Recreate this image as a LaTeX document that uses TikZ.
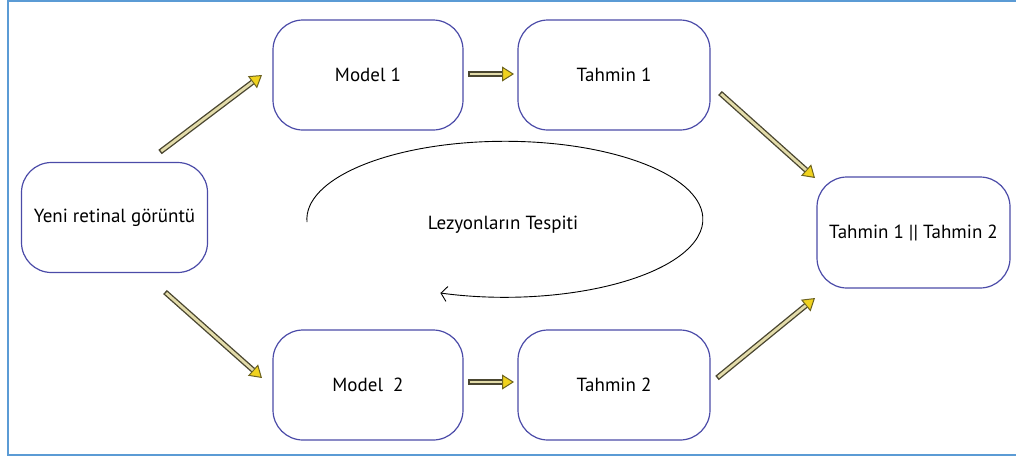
\documentclass[tikz,border=0pt]{standalone}
\usepackage{fontspec}
\setmainfont{PT Sans}
\usetikzlibrary{arrows.meta}
\definecolor{framblue}{HTML}{5B9BD5}
\definecolor{boxline}{HTML}{4B4BA8}
\definecolor{shaftdark}{HTML}{4A4630}
\definecolor{shaftlight}{HTML}{E3DCAA}
\definecolor{headfill}{HTML}{F0D21E}
\definecolor{headline}{HTML}{6E6420}
\tikzset{
  labelfont/.style={font=\fontsize{19}{22}\selectfont, text=black},
  stagebox/.style={draw=boxline, line width=1.2pt, rounded corners=30pt,
    minimum width=190pt, minimum height=110pt, inner sep=0pt, labelfont},
  fatarrow/.style={draw=shaftdark, line width=5.5pt, line cap=butt,
    -{Triangle[length=12pt,width=15pt,fill=headfill,color=headline,line width=1pt]},
    postaction={draw=shaftlight, line width=2.8pt, -, shorten >=12pt, shorten <=1.5pt}},
  looparrow/.style={draw=black, line width=0.9pt, -{Straight Barb[length=6pt,width=15pt]}},
}
\begin{document}
\begin{tikzpicture}[x=1pt, y=-1pt]
\useasboundingbox (0,0) rectangle (1016,459);
% outer frame, open on the right
\draw[framblue, line width=2pt] (1016,1) -- (8,1) -- (8,455) -- (1016,455);

% boxes
\node[stagebox, minimum width=186pt, minimum height=110pt] (yeni) at (114.5,217.5) {Yeni retinal görüntü};
\node[stagebox] (m1) at (368,75) {Model 1};
\node[stagebox, minimum width=192pt] (t1) at (614,75) {Tahmin 1};
\node[stagebox] (m2) at (368,385) {Model~~2};
\node[stagebox, minimum width=192pt] (t2) at (614,385) {Tahmin 2};
\node[stagebox, minimum width=193pt, minimum height=111pt] (out) at (913.5,232.5) {Tahmin 1 || Tahmin 2};

% arrow end points
\coordinate (a1s) at (160,152);  \coordinate (a1e) at (262,75);
\coordinate (a2s) at (165,292);  \coordinate (a2e) at (262,378);
\coordinate (a3s) at (468,74);   \coordinate (a3e) at (514,74);
\coordinate (a4s) at (468,382);  \coordinate (a4e) at (514,382);
\coordinate (a5s) at (720,93);   \coordinate (a5e) at (815,178);
\coordinate (a6s) at (717,378);  \coordinate (a6e) at (815,298);

\draw[fatarrow] (a1s) -- (a1e);
\draw[fatarrow] (a2s) -- (a2e);
\draw[fatarrow] (a3s) -- (a3e);
\draw[fatarrow] (a4s) -- (a4e);
\draw[fatarrow] (a5s) -- (a5e);
\draw[fatarrow] (a6s) -- (a6e);

% loop around the centre label
\node[labelfont] (lez) at (503,225) {Lezyonların Tespiti};
\coordinate (loopstart) at (307,222);
\draw[looparrow] (loopstart) arc[start angle=178, end angle=469, x radius=198, y radius=78];
\end{tikzpicture}
\end{document}
